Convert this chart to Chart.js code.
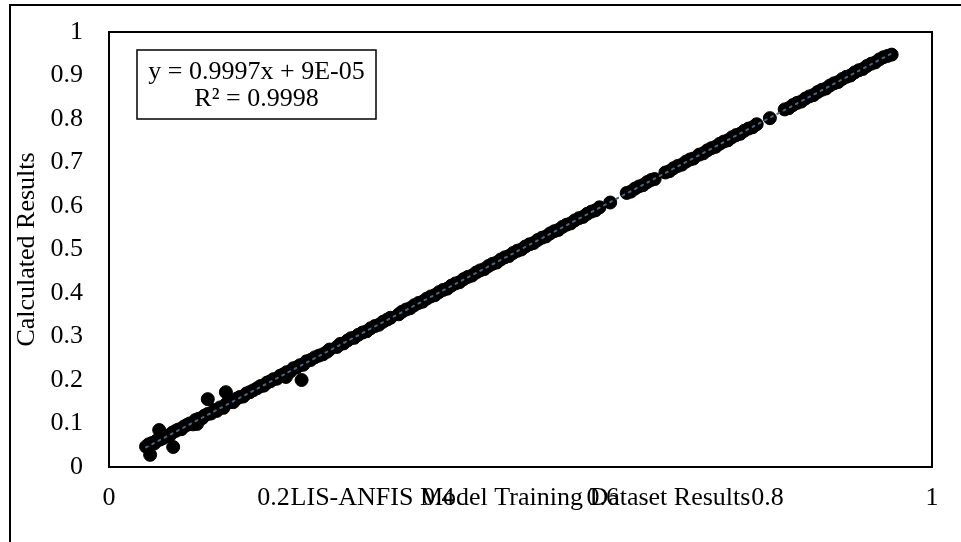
<!DOCTYPE html>
<html>
<head>
<meta charset="utf-8">
<script src="https://cdn.jsdelivr.net/npm/chart.js@4.4.1/dist/chart.umd.min.js"></script>
<style>
  html, body { margin: 0; padding: 0; background: #ffffff; }
  #wrap { width: 961px; height: 542px; position: relative; }
</style>
</head>
<body>
<div id="wrap"><canvas id="c" width="961" height="542"></canvas></div>
<script>
// ---------- DATA ----------
const xTitle = 'LIS-ANFIS Model Training Dataset Results';
const yTitle = 'Calculated Results';
const equationText = 'y = 0.9997x + 9E-05';
const r2Text = 'R² = 0.9998';
const trendSlope = 0.9997;
const trendIntercept = 0.00009;
const trendXRange = [0.045, 0.951];
const xTicks = [0, 0.2, 0.4, 0.6, 0.8, 1];
const yTicks = [0, 0.1, 0.2, 0.3, 0.4, 0.5, 0.6, 0.7, 0.8, 0.9, 1];

const modelX = [
  0.045,0.048,0.052,0.055,0.058,0.062,0.065,0.068,0.071,0.074,0.077,0.081,0.084,0.088,0.091,0.095,0.098,0.102,0.105,0.109,
  0.113,0.116,0.12,0.124,0.128,0.131,0.135,0.139,0.143,0.147,0.151,0.155,0.159,0.163,0.167,0.171,0.175,0.18,0.184,0.188,
  0.192,0.196,0.2,0.204,0.208,0.212,0.216,0.22,0.224,0.228,0.232,0.236,0.24,0.245,0.25,0.255,0.26,0.265,0.268,
  0.277,0.281,0.285,0.29,0.294,0.298,0.303,0.308,0.313,0.318,0.323,0.328,0.333,0.338,0.342,
  0.05,0.061,0.078,0.107,0.12,0.142,0.234,0.215,
  0.352,0.356,0.361,0.366,0.371,0.376,0.381,0.386,0.391,0.396,0.401,0.406,0.411,0.416,0.421,0.426,0.431,0.436,0.441,0.446,
  0.451,0.456,0.461,0.466,0.471,0.476,0.481,0.486,0.491,0.496,0.501,0.506,0.511,0.516,0.521,0.526,0.531,0.536,0.541,0.546,
  0.551,0.556,0.561,0.566,0.571,0.576,0.581,0.586,0.591,0.596,0.609,
  0.629,0.634,0.639,0.644,0.649,0.654,0.659,0.663,0.676,0.681,0.686,0.691,0.696,0.701,0.706,0.71,
  0.717,0.722,0.727,0.732,0.737,0.742,0.747,0.752,0.757,0.762,0.767,0.772,0.777,0.782,0.787,0.803,
  0.821,0.826,0.831,0.836,0.841,0.846,0.851,0.856,0.861,0.866,0.871,0.876,0.881,0.886,0.891,0.896,0.901,0.906,0.911,0.916,
  0.921,0.926,0.931,0.936,0.941,0.946,0.951
];
const calcY = [
  0.047,0.052,0.055,0.054,0.061,0.063,0.066,0.07,0.072,0.073,0.079,0.083,0.086,0.087,0.093,0.097,0.1,0.098,0.108,0.111,
  0.112,0.118,0.122,0.123,0.131,0.129,0.137,0.136,0.146,0.15,0.149,0.157,0.161,0.162,0.169,0.172,0.176,0.181,0.186,0.187,
  0.194,0.197,0.202,0.203,0.21,0.213,0.218,0.219,0.227,0.229,0.234,0.235,0.243,0.246,0.252,0.256,0.259,0.265,0.27,
  0.276,0.283,0.284,0.291,0.296,0.297,0.304,0.309,0.312,0.319,0.324,0.327,0.334,0.339,0.343,
  0.028,0.085,0.046,0.099,0.156,0.172,0.2,0.207,
  0.351,0.357,0.362,0.365,0.372,0.377,0.38,0.387,0.392,0.395,0.402,0.407,0.41,0.417,0.422,0.425,0.432,0.437,0.44,0.447,
  0.452,0.455,0.462,0.467,0.47,0.477,0.482,0.485,0.492,0.497,0.5,0.507,0.512,0.515,0.522,0.527,0.53,0.537,0.542,0.545,
  0.552,0.557,0.56,0.567,0.572,0.575,0.582,0.587,0.59,0.597,0.608,
  0.63,0.633,0.64,0.645,0.648,0.655,0.66,0.662,0.677,0.68,0.687,0.692,0.695,0.702,0.707,0.709,
  0.718,0.721,0.728,0.733,0.736,0.743,0.748,0.751,0.758,0.763,0.766,0.773,0.778,0.781,0.788,0.802,
  0.822,0.825,0.832,0.837,0.84,0.847,0.852,0.855,0.862,0.867,0.87,0.877,0.882,0.885,0.892,0.897,0.9,0.907,0.912,0.915,
  0.922,0.927,0.93,0.937,0.942,0.945,0.948
];

// ---------- CHART ----------
const FONT = "'Liberation Serif', 'Times New Roman', serif";
const points = modelX.map((x, i) => ({ x: x, y: calcY[i] }));
const trendPoints = trendXRange.map(x => ({ x: x, y: trendSlope * x + trendIntercept }));

const framePlugin = {
  id: 'frame',
  beforeDraw(chart) {
    const ctx = chart.ctx;
    ctx.save();
    ctx.fillStyle = '#ffffff';
    ctx.fillRect(0, 0, chart.width, chart.height);
    // outer chart-object border (runs off the right and bottom edges)
    ctx.strokeStyle = '#000000';
    ctx.lineWidth = 2;
    ctx.beginPath();
    ctx.moveTo(10, chart.height + 5);
    ctx.lineTo(10, 5);
    ctx.lineTo(chart.width + 5, 5);
    ctx.stroke();
    ctx.restore();
  },
  afterDraw(chart) {
    const ctx = chart.ctx;
    const a = chart.chartArea;
    ctx.save();
    // plot-area border
    ctx.strokeStyle = '#000000';
    ctx.lineWidth = 2;
    ctx.strokeRect(a.left, a.top, a.right - a.left, a.bottom - a.top);
    // y-axis title
    ctx.fillStyle = '#000000';
    ctx.font = '26px ' + FONT;
    ctx.textAlign = 'center';
    ctx.textBaseline = 'middle';
    ctx.translate(27, (a.top + a.bottom) / 2);
    ctx.rotate(-Math.PI / 2);
    ctx.fillText(yTitle, 0, 0);
    ctx.restore();

    // equation label box
    ctx.save();
    const bx = 137, by = 50, bw = 239, bh = 69;
    ctx.fillStyle = '#ffffff';
    ctx.fillRect(bx, by, bw, bh);
    ctx.strokeStyle = '#000000';
    ctx.lineWidth = 1.5;
    ctx.strokeRect(bx, by, bw, bh);
    ctx.fillStyle = '#000000';
    ctx.font = '26px ' + FONT;
    ctx.textAlign = 'center';
    ctx.textBaseline = 'middle';
    ctx.fillText(equationText, bx + bw / 2, 72);
    ctx.fillText(r2Text, bx + bw / 2, 99);
    ctx.restore();
  }
};

new Chart(document.getElementById('c'), {
  type: 'scatter',
  data: {
    datasets: [
      {
        type: 'line',
        label: 'Linear trend',
        data: trendPoints,
        borderColor: '#4a6580',
        borderWidth: 2,
        borderDash: [2, 5],
        borderCapStyle: 'round',
        pointRadius: 0,
        fill: false,
        order: 0
      },
      {
        label: 'Calculated Results',
        data: points,
        backgroundColor: '#000000',
        borderColor: '#000000',
        borderWidth: 1,
        pointRadius: 6.5,
        pointHoverRadius: 6.5,
        order: 1
      }
    ]
  },
  options: {
    responsive: false,
    animation: false,
    devicePixelRatio: 1,
    layout: { padding: { left: 0, top: 32, right: 29, bottom: 0 } },
    plugins: {
      legend: { display: false },
      tooltip: { enabled: false }
    },
    scales: {
      x: {
        type: 'linear',
        min: 0,
        max: 1,
        afterBuildTicks(scale) { scale.ticks = xTicks.map(v => ({ value: v })); },
        afterFit(scale) { scale.height = 75; scale.paddingLeft = 0; scale.paddingRight = 0; },
        grid: { display: false, drawTicks: false },
        border: { display: false },
        ticks: {
          color: '#000000',
          padding: 16,
          maxRotation: 0,
          autoSkip: false,
          font: { family: FONT, size: 26 },
          callback: v => String(Math.round(v * 10) / 10)
        },
        title: {
          display: true,
          text: xTitle,
          color: '#000000',
          font: { family: FONT, size: 26 },
          padding: { top: 0, bottom: 28 }
        }
      },
      y: {
        type: 'linear',
        min: 0,
        max: 1,
        afterBuildTicks(scale) { scale.ticks = yTicks.map(v => ({ value: v })); },
        afterFit(scale) { scale.width = 109; scale.paddingTop = 0; scale.paddingBottom = 0; },
        grid: { display: false, drawTicks: false },
        border: { display: false },
        ticks: {
          color: '#000000',
          padding: 26,
          autoSkip: false,
          font: { family: FONT, size: 26 },
          callback: v => String(Math.round(v * 10) / 10)
        }
      }
    }
  },
  plugins: [framePlugin]
});
</script>
</body>
</html>
